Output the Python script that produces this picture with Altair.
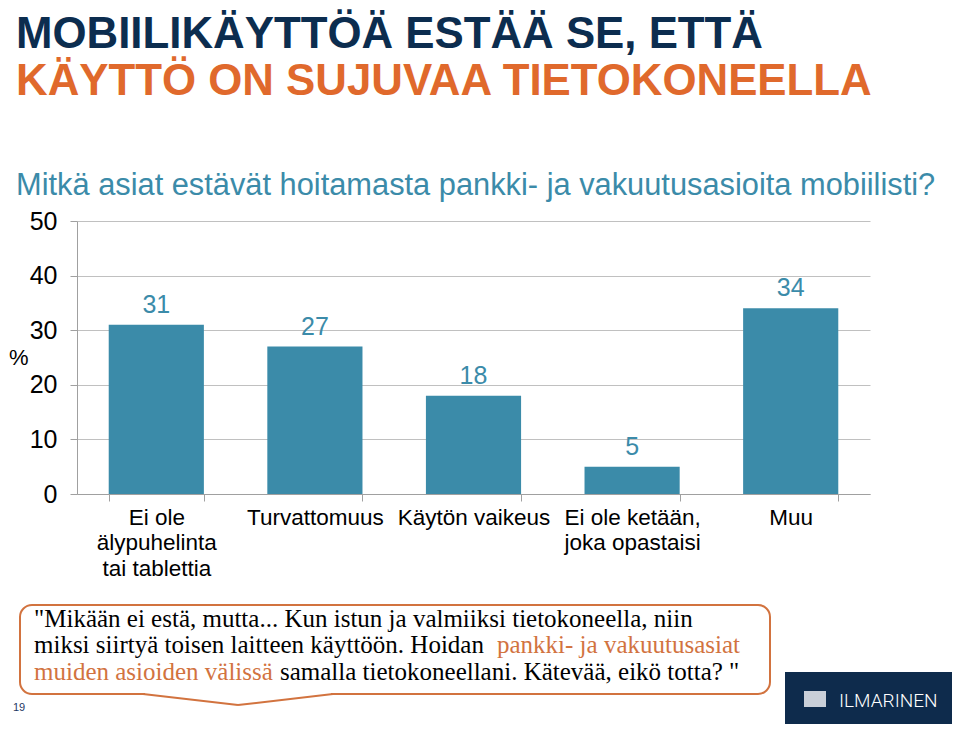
import altair as alt
import pandas as pd

# ---------------- data ----------------
categories = ["Ei ole|älypuhelinta|tai tablettia", "Turvattomuus", "Käytön vaikeus",
              "Ei ole ketään,|joka opastaisi", "Muu"]
values = [31, 27, 18, 5, 34]
y_ticks = [0, 10, 20, 30, 40, 50]

title_line1 = "MOBIILIKÄYTTÖÄ ESTÄÄ SE, ETTÄ"
title_line2 = "KÄYTTÖ ON SUJUVAA TIETOKONEELLA"
subtitle = "Mitkä asiat estävät hoitamasta pankki- ja vakuutusasioita mobiilisti?"
y_label = "%"
quote_l1 = '"Mikään ei estä, mutta... Kun istun ja valmiiksi tietokoneella, niin'
quote_l2a = "miksi siirtyä toisen laitteen käyttöön. Hoidan"
quote_l2b = "pankki- ja vakuutusasiat"
quote_l3a = "muiden asioiden välissä"
quote_l3b = 'samalla tietokoneellani. Kätevää, eikö totta? "'
page_no = "19"
logo_text = "ILMARINEN"

# ---------------- style ----------------
TEAL = "#3B8BA9"
NAVY = "#0C2D4F"
ORANGE = "#E0692C"
QUOTE_ORANGE = "#D2733F"
GRID = "#C0C0C0"
AXIS = "#A0A0A0"
SANS = "Liberation Sans"
SERIF = "Liberation Serif"

# plot origin in page coordinates
X0, Y0 = 77, 221
W, H = 793, 273


def px(x):
    return x - X0


def py(y):
    return y - Y0


def one():
    return pd.DataFrame({"k": [0]})


def text_layer(txt, x, y, size, color, align="left", weight="normal", font=SANS, baseline="alphabetic"):
    return alt.Chart(pd.DataFrame({"t": [txt]})).mark_text(
        align=align, baseline=baseline, fontSize=size, color=color,
        fontWeight=weight, font=font
    ).encode(text="t:N", x=alt.value(px(x)), y=alt.value(py(y)))


df = pd.DataFrame({"cat": categories, "val": values})

x_enc = alt.X(
    "cat:N", sort=categories,
    scale=alt.Scale(paddingInner=0.4, paddingOuter=0.2),
    axis=alt.Axis(
        title=None, labelAngle=0, labelFontSize=22.5, labelColor="black", labelFont=SANS,
        labelLineHeight=25.5, labelExpr="split(datum.label, '|')", labelPadding=5,
        tickBand="extent", tickSize=7, tickColor=AXIS, domainColor=AXIS, grid=False,
        labelLimit=300, labelOverlap=False,
    ),
)
y_enc = alt.Y(
    "val:Q",
    scale=alt.Scale(domain=[0, 50], nice=False),
    axis=alt.Axis(
        title=None, values=y_ticks, labelFontSize=25, labelColor="black", labelFont=SANS,
        labelPadding=13, tickSize=7, tickColor=AXIS, domainColor=AXIS,
        grid=True, gridColor=GRID, format="d",
    ),
)

bars = alt.Chart(df).mark_bar(color=TEAL).encode(x=x_enc, y=y_enc)
value_labels = alt.Chart(df).mark_text(
    dy=-12, baseline="alphabetic", fontSize=25, color=TEAL, font=SANS
).encode(x=alt.X("cat:N", sort=categories), y="val:Q", text="val:Q")

# speech bubble
bubble = alt.Chart(one()).mark_rect(
    cornerRadius=12, fill="white", stroke=QUOTE_ORANGE, strokeWidth=2
).encode(x=alt.value(px(20)), x2=alt.value(px(770)), y=alt.value(py(605)), y2=alt.value(py(694)))
gap = alt.Chart(one()).mark_rule(color="white", strokeWidth=4).encode(
    x=alt.value(px(145)), x2=alt.value(px(331)), y=alt.value(py(694)), y2=alt.value(py(694)))
tip_l = alt.Chart(one()).mark_rule(color=QUOTE_ORANGE, strokeWidth=2).encode(
    x=alt.value(px(143)), x2=alt.value(px(238)), y=alt.value(py(694)), y2=alt.value(py(705)))
tip_r = alt.Chart(one()).mark_rule(color=QUOTE_ORANGE, strokeWidth=2).encode(
    x=alt.value(px(238)), x2=alt.value(px(333)), y=alt.value(py(705)), y2=alt.value(py(694)))

# logo
logo_box = alt.Chart(one()).mark_rect(fill="#0E2B4C").encode(
    x=alt.value(px(785)), x2=alt.value(px(952)), y=alt.value(py(672)), y2=alt.value(py(724)))
logo_icon = alt.Chart(one()).mark_rect(fill="#C9CFD8").encode(
    x=alt.value(px(804)), x2=alt.value(px(826)), y=alt.value(py(691)), y2=alt.value(py(707)))

QS = 25
layers = [
    bars, value_labels,
    text_layer(title_line1, 16, 48, 43.8, NAVY, weight="bold"),
    text_layer(title_line2, 16, 95, 43.8, ORANGE, weight="bold"),
    text_layer(subtitle, 16, 195, 30.8, TEAL),
    text_layer(y_label, 9, 358, 22, "black", align="left", baseline="middle"),
    bubble, gap, tip_l, tip_r,
    text_layer(quote_l1, 34, 627, QS, "black", font=SERIF),
    text_layer(quote_l2a, 34, 653, QS, "black", font=SERIF),
    text_layer(quote_l2b, 497, 653, QS, QUOTE_ORANGE, font=SERIF),
    text_layer(quote_l3a, 34, 680, QS, QUOTE_ORANGE, font=SERIF),
    text_layer(quote_l3b, 280, 680, QS, "black", font=SERIF),
    text_layer(page_no, 13, 711, 11, "#1F3864"),
    logo_box, logo_icon,
    text_layer(logo_text, 839, 707, 19, "white", font="Roboto", weight=300),
]

chart = alt.layer(*layers).properties(
    width=W, height=H,
    autosize=alt.AutoSizeParams(type="none"),
    padding={"left": X0 - 8, "top": Y0 - 8, "right": 944 - (X0 - 8) - W, "bottom": 716 - (Y0 - 8) - H},
    background="white",
).configure_view(stroke=None)

chart.save("out.html", embed_options={"renderer": "svg", "actions": False})
